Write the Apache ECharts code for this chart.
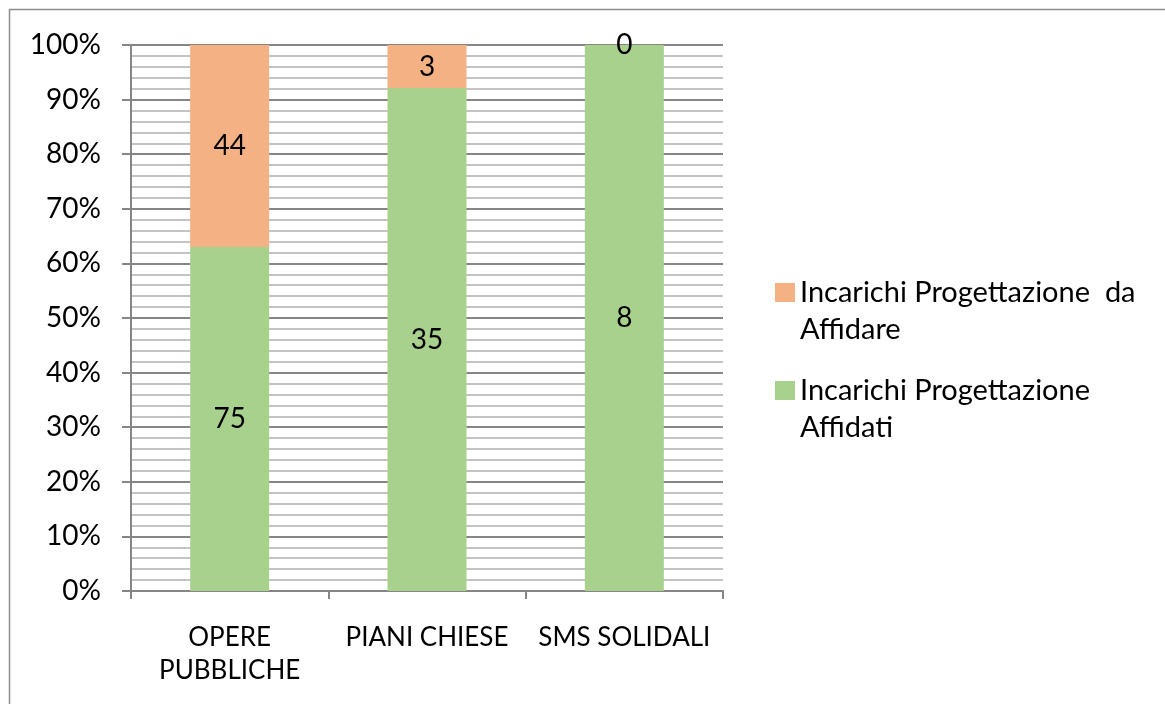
<!DOCTYPE html>
<html>
<head>
<meta charset="utf-8">
<script src="https://cdn.jsdelivr.net/npm/echarts@6/dist/echarts.min.js"></script>
<style>
  html, body { margin: 0; padding: 0; background: #fff; }
  #chart { width: 1165px; height: 704px; }
</style>
</head>
<body>
<div id="chart"></div>
<script>
const categories = ['OPERE\nPUBBLICHE', 'PIANI CHIESE', 'SMS SOLIDALI']
const affidati = [75, 35, 8]
const daAffidare = [44, 3, 0]
const yTicks = ['0%', '10%', '20%', '30%', '40%', '50%', '60%', '70%', '80%', '90%', '100%']

const totals = affidati.map((v, i) => v + daAffidare[i])
const pct = (arr) => arr.map((v, i) => ({ value: v / totals[i] * 100, raw: v }))

const font = 'Lato, "Open Sans", sans-serif'
// square marker sitting at the first text line of a two-line legend item
const legendIcon = 'path://M0,0L0.01,0M0,9L20,9L20,28L0,28ZM0,74L0.01,74'

const chart = echarts.init(document.getElementById('chart'))
chart.setOption({
  animation: false,
  textStyle: { fontFamily: font },
  graphic: [{
    type: 'rect',
    shape: { x: 9.5, y: 9.5, width: 1300, height: 900 },
    style: { fill: 'none', stroke: '#8c8c8c', lineWidth: 1.5 },
    silent: true
  }],
  grid: { left: 131, right: 442, top: 45, bottom: 113 },
  legend: {
    orient: 'vertical',
    left: 775,
    top: 274,
    padding: 0,
    itemWidth: 20,
    itemHeight: 74,
    itemGap: 24,
    icon: legendIcon,
    data: ['Incarichi Progettazione da Affidare', 'Incarichi Progettazione Affidati'],
    formatter: (name) => name === 'Incarichi Progettazione da Affidare'
      ? 'Incarichi Progettazione  da\nAffidare'
      : 'Incarichi Progettazione\nAffidati',
    textStyle: { fontSize: 29, color: '#000', lineHeight: 37, fontFamily: font }
  },
  xAxis: {
    type: 'category',
    data: categories,
    axisLine: { lineStyle: { color: '#868686', width: 2 } },
    axisTick: { show: true, length: 8, lineStyle: { color: '#868686', width: 2 } },
    axisLabel: {
      interval: 0, hideOverlap: false,
      fontSize: 26, color: '#000', lineHeight: 33, margin: 30, fontFamily: font
    }
  },
  yAxis: {
    type: 'value',
    min: 0,
    max: 100,
    interval: 10,
    axisLine: { show: true, lineStyle: { color: '#868686', width: 2 } },
    axisTick: { show: true, length: 9, lineStyle: { color: '#868686', width: 2 } },
    axisLabel: {
      fontSize: 28, color: '#000', margin: 30, fontFamily: font,
      formatter: (v) => yTicks[Math.round(v / 10)]
    },
    splitLine: { show: true, lineStyle: { color: '#868686', width: 2 } },
    minorTick: { show: false, splitNumber: 5 },
    minorSplitLine: { show: true, lineStyle: { color: '#c4c4c4', width: 2 } }
  },
  series: [
    {
      name: 'Incarichi Progettazione Affidati',
      type: 'bar',
      stack: 'tot',
      barWidth: 79,
      itemStyle: { color: '#A9D18E' },
      label: {
        show: true, position: 'inside', fontSize: 28, color: '#000', fontFamily: font,
        formatter: (p) => p.data.raw
      },
      data: pct(affidati)
    },
    {
      name: 'Incarichi Progettazione da Affidare',
      type: 'bar',
      stack: 'tot',
      barWidth: 79,
      itemStyle: { color: '#F4B183' },
      label: {
        show: true, position: 'inside', fontSize: 28, color: '#000', fontFamily: font,
        formatter: (p) => p.data.raw
      },
      data: pct(daAffidare)
    }
  ]
})
</script>
</body>
</html>
